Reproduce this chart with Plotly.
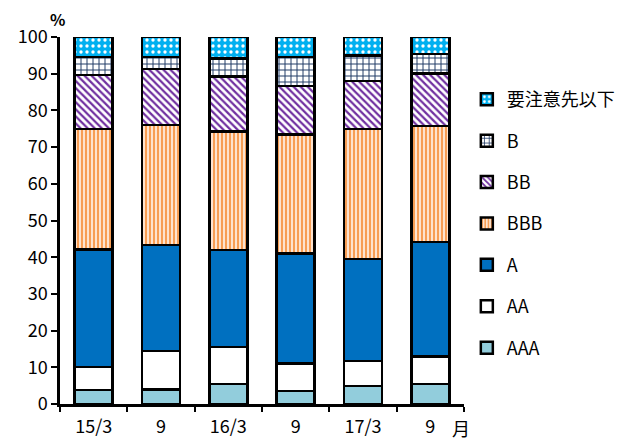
import plotly.graph_objects as go

# Periods (fiscal half-years) and their axis labels
periods = ["15/3", "15/9", "16/3", "16/9", "17/3", "17/9"]
period_labels = ["15/3", "9", "16/3", "9", "17/3", "9"]

# Share of borrowers by rating grade (%), bottom to top of each stack
aaa = [3.8, 4.0, 5.4, 3.6, 4.9, 5.4]
aa = [6.3, 10.4, 10.2, 7.5, 6.8, 7.5]
a = [32.0, 28.9, 26.3, 29.9, 27.8, 31.3]
bbb = [32.9, 32.7, 32.4, 32.4, 35.5, 31.6]
bb = [14.7, 15.3, 15.0, 13.3, 13.0, 14.2]
b = [4.8, 3.3, 4.8, 7.8, 7.0, 5.4]
watch = [5.5, 5.4, 5.9, 5.5, 5.0, 4.6]

series = [
    ("AAA", aaa, dict(color="#92CDDC")),
    ("AA", aa, dict(color="#FFFFFF")),
    ("A", a, dict(color="#0070C0")),
    ("BBB", bbb, dict(color="#FAC090",
                      pattern=dict(shape="|", fgcolor="#F79646", bgcolor="#FDE3CF",
                                   size=4, solidity=0.45, fillmode="replace"))),
    ("BB", bb, dict(color="#7030A0",
                    pattern=dict(shape="\\", fgcolor="#7030A0", bgcolor="#FFFFFF",
                                 size=5, solidity=0.45, fillmode="replace"))),
    ("B", b, dict(color="#1F3864",
                  pattern=dict(shape="+", fgcolor="#1F3864", bgcolor="#FFFFFF",
                               size=6, solidity=0.3, fillmode="replace"))),
    ("要注意先以下", watch, dict(color="#00B0F0",
                             pattern=dict(shape=".", fgcolor="#FFFFFF", bgcolor="#00B0F0",
                                          size=6, solidity=0.25, fillmode="replace"))),
]

FONT = "Noto Sans CJK JP, sans-serif"

fig = go.Figure()
n = len(series)
for i, (name, vals, marker) in enumerate(series):
    fig.add_trace(go.Bar(
        x=periods, y=vals, name=name, legendgroup=name,
        legendrank=n - i,  # top of the stack listed first
        width=0.565,
        marker=dict(**marker, line=dict(color="#000000", width=2.5)),
        hoverinfo="skip",
    ))

fig.update_layout(
    barmode="stack",
    width=635, height=441,
    margin=dict(l=60, r=171, t=37, b=37),
    paper_bgcolor="#FFFFFF",
    plot_bgcolor="#FFFFFF",
    font=dict(family=FONT, size=18, color="#000000"),
    showlegend=True,
    legend=dict(
        traceorder="grouped",
        tracegroupgap=15,
        x=1.007, xanchor="left",
        y=0.88, yanchor="top",
        font=dict(family=FONT, size=18, color="#000000"),
        itemwidth=30,
        bgcolor="rgba(0,0,0,0)",
    ),
    xaxis=dict(
        type="category",
        tickmode="array", tickvals=periods, ticktext=period_labels,
        tickson="boundaries",
        ticks="outside", ticklen=5, tickwidth=2, tickcolor="#000000",
        showline=True, linecolor="#000000", linewidth=2.5,
        showgrid=False, zeroline=False, automargin=False,
        ticklabelstandoff=5,
        tickfont=dict(family=FONT, size=18),
    ),
    yaxis=dict(
        range=[0, 100],
        tickmode="linear", tick0=0, dtick=10,
        ticks="outside", ticklen=6, tickwidth=2, tickcolor="#000000",
        showline=True, linecolor="#000000", linewidth=2.5,
        showgrid=False, zeroline=False, automargin=False,
        tickfont=dict(family=FONT, size=18),
    ),
    annotations=[
        dict(text="<b>%</b>", xref="paper", yref="paper", x=-0.005, y=1.0,
             yshift=4, xanchor="center", yanchor="bottom", showarrow=False,
             font=dict(family=FONT, size=16)),
        dict(text="月", xref="paper", yref="paper", x=0.993, y=0,
             yshift=-24, xanchor="center", yanchor="middle", showarrow=False,
             font=dict(family=FONT, size=18)),
    ],
)

fig.write_html("out.html")
